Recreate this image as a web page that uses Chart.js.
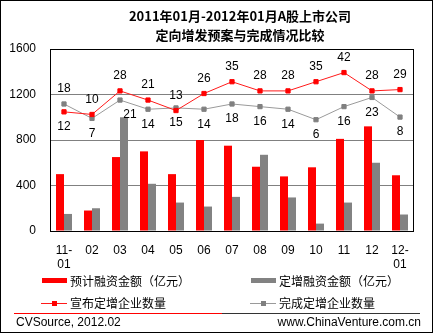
<!DOCTYPE html>
<html><head><meta charset="utf-8">
<script src="https://cdn.jsdelivr.net/npm/chart.js@4/dist/chart.umd.min.js"></script>
<style>
html,body{margin:0;padding:0;background:#fff;}
#wrap{position:relative;width:435px;height:335px;overflow:hidden;font-family:"Liberation Sans",Arial,sans-serif;color:#000;}
#frame{position:absolute;left:0;top:0;width:431px;height:331px;border:1px solid #000;pointer-events:none;}
canvas{position:absolute;left:0;top:0;}
#title{position:absolute;left:40px;top:6px;width:400px;text-align:center;font:bold 13px/19px "Noto Sans CJK SC","Liberation Sans",sans-serif;}
.lg{position:absolute;}
.lgtext{position:absolute;font:12px/16px "Noto Sans CJK SC",sans-serif;white-space:nowrap;}
.foot{position:absolute;font:12px/14px "Liberation Sans",Arial,sans-serif;white-space:nowrap;}
</style></head>
<body>
<div id="wrap">
<canvas id="c" width="435" height="335"></canvas>
<div id="title">2011年01月-2012年01月A股上市公司<br>定向增发预案与完成情况比较</div>
<div id="legend"></div>
<div class="lg" style="left:14px;top:313px;width:208px;height:1px;background:#ff0000"></div>
<div class="lg" style="left:222px;top:313px;width:198px;height:1px;background:#333"></div>
<div class="foot" style="left:16px;top:315px;">CVSource, 2012.02</div>
<div class="foot" style="right:14px;top:315px;">www.ChinaVenture.com.cn</div>
<div id="frame"></div>
</div>
<script>
const categories = ['11-01','02','03','04','05','06','07','08','09','10','11','12','12-01'];
const plannedAmount   = [500,180,650,700,500,800,750,565,480,560,810,920,490];
const completedAmount = [150,200,1000,415,250,215,300,670,295,65,250,600,145];
const announcedCount  = [12,10,28,21,13,26,35,28,28,35,42,28,29];
const completedCount  = [18,7,21,14,15,14,18,16,14,6,16,23,8];
const seriesNames = ['预计融资金额（亿元）','定增融资金额（亿元）','宣布定增企业数量','完成定增企业数量'];
const yTicks = [0,400,800,1200,1600];

Chart.defaults.font.family = '"Liberation Sans", Arial, sans-serif';
Chart.defaults.font.size = 12;
Chart.defaults.color = '#000';

const frame = {
  id:'frame',
  beforeDatasetsDraw(chart){
    const a = chart.chartArea, ctx = chart.ctx;
    ctx.save(); ctx.strokeStyle='#000'; ctx.lineWidth=1;
    ctx.strokeRect(Math.round(a.left)+0.5, Math.round(a.top)+0.5, Math.round(a.right-a.left)-1, Math.round(a.bottom-a.top));
    ctx.restore();
  }
};
const valueLabels = {
  id:'valueLabels',
  afterDatasetsDraw(chart){
    const ctx = chart.ctx;
    ctx.save();
    ctx.font = '12px "Liberation Sans", Arial, sans-serif';
    ctx.fillStyle = '#000'; ctx.textAlign='center'; ctx.textBaseline='middle';
    chart.data.datasets.forEach((ds, di)=>{
      if (ds.type !== 'line') return;
      const meta = chart.getDatasetMeta(di);
      meta.data.forEach((pt, i)=>{
        let dir = ds.labelSide;
        if (ds.labelFlip.includes(i)) dir = -dir;
        const dx = ds.labelShift[i] || 0;
        ctx.fillText(String(ds.data[i]), pt.x + dx, pt.y + dir*15);
      });
    });
    ctx.restore();
  }
};

const chart = new Chart(document.getElementById('c'), {
  data: {
    labels: categories,
    datasets: [
      {type:'bar', label:seriesNames[0], data:plannedAmount, backgroundColor:'#ff0000', yAxisID:'y', order:2,
       categoryPercentage:0.57, barPercentage:1.0},
      {type:'bar', label:seriesNames[1], data:completedAmount, backgroundColor:'#828282', yAxisID:'y', order:2,
       categoryPercentage:0.57, barPercentage:1.0},
      {type:'line', label:seriesNames[2], data:announcedCount, borderColor:'#ff1a1a', borderWidth:1,
       pointStyle:'rect', pointRadius:3, pointBorderWidth:1, pointBackgroundColor:'#ff0000', pointBorderColor:'#ff0000',
       yAxisID:'y2', order:1, tension:0, labelSide:-1, labelFlip:[0], labelShift:{}},
      {type:'line', label:seriesNames[3], data:completedCount, borderColor:'#9a9a9a', borderWidth:1,
       pointStyle:'rect', pointRadius:3, pointBorderWidth:1, pointBackgroundColor:'#808080', pointBorderColor:'#808080',
       yAxisID:'y2', order:1, tension:0, labelSide:1, labelFlip:[0], labelShift:{2:10}}
    ]
  },
  options: {
    responsive:false, animation:false, devicePixelRatio:1,
    layout:{padding:{left:0, top:49, right:21, bottom:0}},
    plugins:{legend:{display:false}, title:{display:false}, tooltip:{enabled:false}},
    scales:{
      x:{grid:{display:false}, border:{display:false},
         ticks:{padding:4, maxRotation:0, autoSkip:false, font:{size:12},
           callback(v){ const l = this.getLabelForValue(v); const k = l.indexOf('-');
             return k > 0 ? [l.slice(0,k+1), l.slice(k+1)] : [l, '']; }},
         afterFit(s){ s.height = 104; }},
      y:{min:0, max:1600,
         afterBuildTicks(s){ s.ticks = yTicks.map(v=>({value:v})); },
         grid:{color:'#808080', drawTicks:false, lineWidth:1},
         border:{display:false},
         ticks:{padding:14, font:{size:12}, callback:v=>String(v)},
         afterFit(s){ s.width = 50; }},
      y2:{display:false, min:-79, max:60}
    }
  },
  plugins:[frame, valueLabels]
});

// HTML legend built from the chart's datasets
const lg = document.getElementById('legend');
const slots = [{x:42,y:280.5},{x:251,y:280.5},{x:42,y:303},{x:251,y:303}];
chart.data.datasets.forEach((ds,i)=>{
  const s = slots[i];
  const color = ds.type==='bar' ? ds.backgroundColor : ds.pointBackgroundColor;
  if (ds.type==='bar') {
    lg.insertAdjacentHTML('beforeend', `<div class="lg" style="left:${s.x}px;top:${s.y-2.5}px;width:25px;height:5px;background:${color}"></div>`);
  } else {
    lg.insertAdjacentHTML('beforeend', `<div class="lg" style="left:${s.x-1}px;top:${Math.floor(s.y)}px;width:26px;height:1px;background:${ds.borderColor}"></div>`);
    lg.insertAdjacentHTML('beforeend', `<div class="lg" style="left:${s.x+10}px;top:${Math.floor(s.y)-2}px;width:5px;height:5px;background:${color}"></div>`);
  }
  lg.insertAdjacentHTML('beforeend', `<div class="lgtext" style="left:${s.x+28}px;top:${s.y-8}px">${ds.label}</div>`);
});
</script>
</body></html>
